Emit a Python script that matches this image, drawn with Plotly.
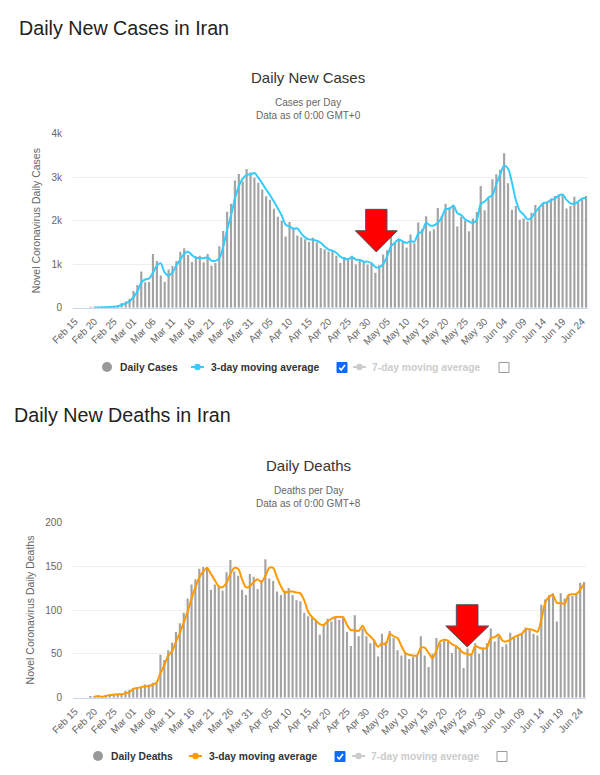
import pandas as pd
import plotly.graph_objects as go

# the page puts an 8px margin around the plot, the rest of the window is what gets photographed
PAGE = 8
W, H = 592, 767

dates = pd.date_range("2020-02-15", "2020-06-25").strftime("%b %d").tolist()
tick_labels = dates[::5]

# daily new cases, starts Feb 19
daily_cases = [
    2, 3, 13, 10, 15, 18, 34, 44, 106, 143, 205, 385, 523, 835, 586, 591, 1234, 1076, 743, 595,
    881, 958, 1075, 1289, 1365, 1209, 1053, 1178, 1192, 1046, 1237, 966, 1028, 1411, 1762, 2206,
    2389, 2926, 3076, 2901, 3186, 3110, 2988, 2875, 2715, 2560, 2483, 2274, 2089, 1997, 1634,
    1972, 1837, 1657, 1617, 1574, 1512, 1606, 1499, 1374, 1343, 1294, 1297, 1194, 1030, 1168,
    1134, 1194, 991, 1112, 1073, 993, 1006, 802, 976, 1223, 1323, 1680, 1485, 1556, 1529, 1383,
    1683, 1481, 1958, 1808, 2102, 1757, 1806, 2294, 2111, 2392, 2311, 2346, 1869, 2090, 2000,
    1760, 2050, 2200, 2800, 2240, 2500, 2950, 3070, 3170, 3550, 2860, 2250, 2340, 2020, 2050,
    1980, 2180, 2360, 2300, 2400, 2440, 2510, 2570, 2590, 2600, 2280, 2340, 2550, 2410, 2490, 2570,
]
# 3-day line, starts Feb 20
avg_cases = [
    2, 6, 9, 13, 14, 22, 32, 61, 98, 151, 245, 371, 581, 648, 671, 804, 967, 1018, 805, 740,
    811, 971, 1107, 1243, 1288, 1209, 1147, 1141, 1139, 1158, 1083, 1077, 1135, 1400, 1793, 2119,
    2507, 2797, 2968, 3054, 3066, 3095, 2991, 2859, 2717, 2586, 2439, 2282, 2120, 1907, 1868,
    1814, 1822, 1704, 1616, 1568, 1564, 1539, 1493, 1405, 1337, 1311, 1262, 1174, 1131, 1111,
    1165, 1106, 1099, 1059, 1059, 1024, 934, 928, 1000, 1174, 1409, 1496, 1574, 1523, 1489,
    1531, 1516, 1707, 1749, 1956, 1889, 1890, 1952, 2070, 2266, 2271, 2350, 2175, 2130, 2030,
    1985, 1950, 2020, 2380, 2440, 2530, 2590, 2840, 3060, 3270, 3200, 2880, 2480, 2230, 2140,
    2030, 2070, 2200, 2300, 2400, 2420, 2470, 2510, 2580, 2600, 2480, 2400, 2390, 2440, 2510, 2530,
]
# daily deaths, starts Feb 19
daily_deaths = [
    2, 2, 2, 1, 3, 4, 3, 3, 4, 8, 9, 11, 12, 11, 15, 15, 17, 17, 49, 43, 54, 63, 75, 85, 97, 113,
    129, 135, 147, 149, 149, 123, 129, 127, 122, 143, 157, 144, 139, 123, 117, 141, 138, 124, 134,
    158, 136, 133, 121, 117, 122, 125, 117, 111, 110, 97, 93, 91, 89, 72, 83, 90, 87, 92, 89, 92,
    75, 59, 94, 70, 79, 70, 62, 65, 47, 73, 64, 76, 68, 54, 48, 51, 44, 47, 48, 70, 48, 35, 50,
    68, 62, 65, 64, 51, 58, 57, 34, 56, 50, 62, 50, 57, 62, 79, 64, 70, 58, 61, 74, 68, 70, 73,
    80, 78, 73, 71, 106, 112, 117, 119, 87, 119, 113, 117, 116, 119, 131, 132,
]
# 3-day line, starts Feb 20
avg_deaths = [
    1, 2, 1, 2, 3, 3.5, 4, 4, 5, 6, 10, 11, 12, 13, 13, 15, 17, 28, 37, 48, 53, 64, 74, 86, 98,
    113, 126, 137, 144, 148, 141, 134, 127, 126, 131, 141, 148, 147, 135, 126, 127, 132, 135, 132,
    139, 148, 148, 137, 127, 120, 121, 121, 120, 119, 111, 98, 92, 88, 84, 83, 87, 90, 92, 92, 92,
    83, 77, 77, 76, 82, 74, 70, 65, 58, 62, 61, 73, 70, 68, 59, 51, 49, 48, 48, 57, 57, 51, 45,
    54, 64, 66, 65, 61, 59, 55, 51, 50, 49, 59, 57, 56, 57, 68, 69, 72, 65, 64, 66, 69, 71, 73,
    78, 78, 77, 75, 89, 108, 115, 117, 108, 108, 107, 117, 118, 118, 123, 130,
]

BAR = "#a3a3a3"
GRID = "#eeeeee"
TICK = "#666666"
BLUE = "#33ccff"
ORANGE = "#ff9900"
FONT = "Liberation Sans"


def nx(px):
    return (px - PAGE) / W


def ny(px):
    return 1 - (px - PAGE) / H


fig = go.Figure()


def add_chart(n, bars, line, color, x0, x1, y_top, y_zero, y_max, dtick, ytitle):
    suffix = "" if n == 1 else str(n)
    xa, ya = "x" + suffix, "y" + suffix
    fig.add_trace(go.Bar(
        x=dates[4:], y=bars, xaxis=xa, yaxis=ya, marker_color=BAR, marker_line_width=0,
        showlegend=False, hoverinfo="skip",
    ))
    fig.add_trace(go.Scatter(
        x=dates[5:], y=line, xaxis=xa, yaxis=ya, mode="lines", showlegend=False,
        line=dict(color=color, width=2, shape="spline", smoothing=0.8),
    ))
    fig.update_layout({
        "xaxis" + suffix: dict(
            domain=[nx(x0), nx(x1)], anchor=ya, type="category", categoryorder="array",
            categoryarray=dates, range=[-0.5, len(dates) - 0.5], tickmode="array",
            tickvals=tick_labels, ticktext=tick_labels, tickangle=-45, showgrid=False,
            ticks="", showline=True, linecolor="#ccd6eb", linewidth=1, automargin=False,
            ticklabelstandoff=3, tickfont=dict(family=FONT, size=10, color=TICK),
        ),
        "yaxis" + suffix: dict(
            domain=[ny(y_zero), ny(y_top)], anchor=xa, range=[0, y_max], dtick=dtick,
            gridcolor=GRID, gridwidth=1, zeroline=False, ticks="", automargin=False,
            tickformat="~s" if y_max > 1000 else "d", ticklabelstandoff=10,
            tickfont=dict(family=FONT, size=10, color=TICK),
            title=dict(text=ytitle, font=dict(family=FONT, size=10.5, color=TICK), standoff=8),
        ),
    })


add_chart(1, daily_cases, avg_cases, BLUE, 73, 588, 133.7, 307.7, 4000, 1000,
          "Novel Coronavirus Daily Cases")
add_chart(2, daily_deaths, avg_deaths, ORANGE, 73, 586, 522.3, 697.7, 200, 50,
          "Novel Coronavirus Daily Deaths")


def label(text, x, y, size, color, anchor="center", weight=400):
    fig.add_annotation(
        text=text, x=nx(x), y=ny(y), xref="paper", yref="paper", xanchor=anchor, yanchor="middle",
        showarrow=False, font=dict(family=FONT, size=size, color=color, weight=weight),
    )


label("Daily New Cases in Iran", 17, 28, 19.7, "#222222", "left")
label("Daily New Deaths in Iran", 12, 415, 19.7, "#222222", "left")
label("Daily New Cases", 308, 77, 15, "#333333")
label("Daily Deaths", 308, 465, 15, "#333333")
label("Cases per Day", 308, 102, 10, TICK)
label("Data as of 0:00 GMT+0", 308, 115, 10, TICK)
label("Deaths per Day", 308, 490, 10, TICK)
label("Data as of 0:00 GMT+8", 308, 503, 10, TICK)


def poly(pts, closed=True):
    path = "M " + " L ".join(f"{nx(a):.4f},{ny(b):.4f}" for a, b in pts)
    return path + " Z" if closed else path


def arrow(left, right, shaft_l, shaft_r, top, neck, tip):
    mid = (left + right) / 2
    pts = [(shaft_l, top), (shaft_r, top), (shaft_r, neck), (right, neck), (mid, tip),
           (left, neck), (shaft_l, neck)]
    fig.add_shape(type="path", path=poly(pts), xref="paper", yref="paper", fillcolor="#ff0000",
                  line=dict(color="#44546a", width=1), layer="above")


arrow(355.3, 397.3, 365.7, 387, 209.3, 230.7, 252)
arrow(445.7, 488.7, 456.3, 478, 604.7, 626, 647)


def dot(x, y, r, color):
    fig.add_shape(type="circle", xref="paper", yref="paper", x0=nx(x - r), x1=nx(x + r),
                  y0=ny(y + r), y1=ny(y - r), fillcolor=color, line_width=0)


def key_line(x0, x1, y, color):
    fig.add_shape(type="line", xref="paper", yref="paper", x0=nx(x0), x1=nx(x1), y0=ny(y), y1=ny(y),
                  line=dict(color=color, width=2))
    dot((x0 + x1) / 2, y, 3.2, color)


def legend_row(y, name, circle_x, name_x, line_x, color, avg_x, check_x, line7_x, text7_x, box_x):
    dot(circle_x, y, 5, "#999999")
    label(name, name_x, y, 10.3, "#333333", "left", 700)
    key_line(line_x, line_x + 13, y, color)
    label("3-day moving average", avg_x, y, 10.3, "#333333", "left", 700)
    fig.add_shape(type="rect", xref="paper", yref="paper", x0=nx(check_x), x1=nx(check_x + 10),
                  y0=ny(y + 5.5), y1=ny(y - 4.5), fillcolor="#0a6cff", line=dict(color="#0a6cff", width=1))
    tick = [(check_x + 2.2, y + 0.8), (check_x + 4.2, y + 3), (check_x + 8, y - 2)]
    fig.add_shape(type="path", path=poly(tick, closed=False), xref="paper", yref="paper",
                  line=dict(color="white", width=1.6))
    key_line(line7_x, line7_x + 13, y, "#cccccc")
    label("7-day moving average", text7_x, y, 10.3, "#cccccc", "left", 700)
    fig.add_shape(type="rect", xref="paper", yref="paper", x0=nx(box_x), x1=nx(box_x + 10),
                  y0=ny(y + 5.5), y1=ny(y - 4.5), fillcolor="white", line=dict(color="#999999", width=1))


legend_row(367, "Daily Cases", 107, 118, 191, BLUE, 209, 337, 353, 370, 499)
legend_row(756, "Daily Deaths", 98, 109, 189, ORANGE, 207, 335, 352, 369, 497)

fig.update_layout(
    width=W, height=H, margin=dict(l=0, r=0, t=0, b=0, autoexpand=False), paper_bgcolor="white",
    plot_bgcolor="white", bargap=0.45, font=dict(family=FONT), hovermode=False, showlegend=False,
)

fig.write_html("out.html")
